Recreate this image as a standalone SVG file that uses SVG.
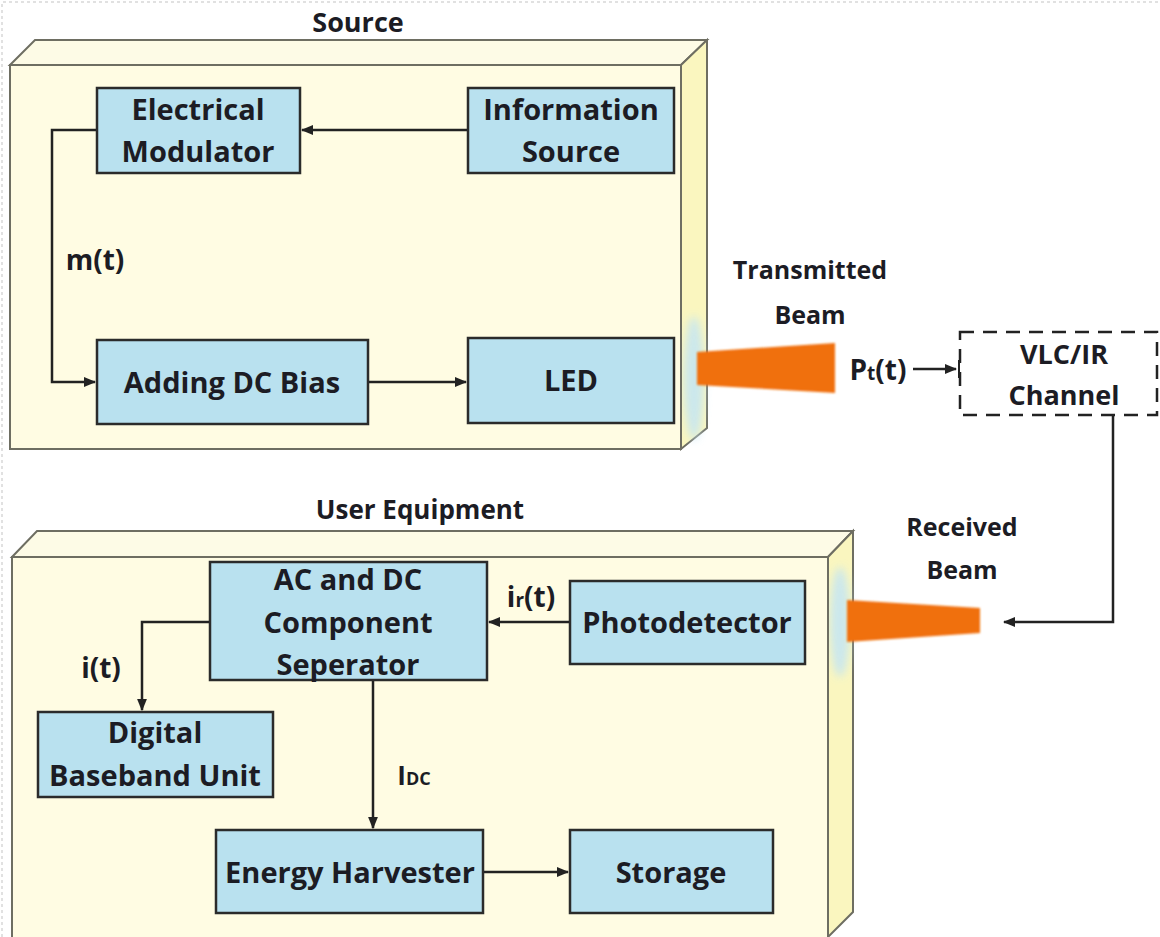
<svg xmlns="http://www.w3.org/2000/svg" width="1160" height="937" viewBox="0 0 1160 937">
<defs>
<style>
.t{font-family:"Open Sans","Liberation Sans",sans-serif;font-weight:bold;fill:#1c1c24;text-anchor:middle}
.bx{font-size:29px}
.lb{font-size:25px}
.sg{font-size:28px}
.node rect{fill:#b9e1ef;stroke:#2b2b2b;stroke-width:2.5}
.front{fill:#fffce3;stroke:#6e6e62;stroke-width:2}
.top{fill:#fdfbe6;stroke:#6e6e62;stroke-width:2}
.side{fill:#faf6bf;stroke:#6e6e62;stroke-width:2}
.c{fill:none;stroke:#222;stroke-width:2.5}
</style>
<marker id="ar" viewBox="0 0 10 10" refX="9" refY="5" markerWidth="5" markerHeight="5" orient="auto" markerUnits="strokeWidth">
<path d="M0,1 L10,5 L0,9 Z" fill="#222"/>
</marker>
<filter id="blur" x="-20%" y="-40%" width="140%" height="180%"><feGaussianBlur stdDeviation="1.3"/></filter>
<filter id="blur2" x="-50%" y="-50%" width="200%" height="200%"><feGaussianBlur stdDeviation="4"/></filter>
</defs>
<rect width="1160" height="937" fill="#ffffff"/>
<path d="M2,937 V2 H1158" fill="none" stroke="#d8d8d8" stroke-width="1.5" stroke-dasharray="3,3"/>

<g id="source-frame">
<text class="t" x="358" y="32" font-size="27">Source</text>
<polygon class="top" points="10,65 35,40 707,40 681,65"/>
<polygon class="side" points="681,65 707,40 707,428 681,449"/>
<ellipse cx="694" cy="378" rx="10" ry="62" fill="#c6e6f2" opacity="0.9" filter="url(#blur2)"/>
<rect class="front" x="10" y="65" width="671" height="384"/>
</g>

<g id="ue-frame">
<text class="t" x="420" y="519" font-size="26">User Equipment</text>
<polygon class="top" points="12,557 37,531 853,531 828,557"/>
<polygon class="side" points="828,557 853,531 853,912 828,937"/>
<ellipse cx="840" cy="622" rx="10" ry="55" fill="#c6e6f2" opacity="0.9" filter="url(#blur2)"/>
<rect class="front" x="12" y="557" width="816" height="390"/>
</g>

<g id="connectors">
<line class="c" x1="468" y1="130" x2="302" y2="130" marker-end="url(#ar)"/>
<polyline class="c" points="97,130 52,130 52,382 95,382" marker-end="url(#ar)"/>
<line class="c" x1="368" y1="382" x2="466" y2="382" marker-end="url(#ar)"/>
<line class="c" x1="913" y1="369" x2="956" y2="369" marker-end="url(#ar)"/>
<line x1="959" y1="360" x2="959" y2="378" stroke="#222" stroke-width="2"/>
<polyline class="c" points="1113,415 1113,622 1004,622" marker-end="url(#ar)"/>
<line class="c" x1="570" y1="622" x2="489" y2="622" marker-end="url(#ar)"/>
<polyline class="c" points="210,622 142,622 142,710" marker-end="url(#ar)"/>
<line class="c" x1="373" y1="680" x2="373" y2="828" marker-end="url(#ar)"/>
<line class="c" x1="483" y1="872" x2="568" y2="872" marker-end="url(#ar)"/>
<text class="t sg" x="95" y="270">m(t)</text>
<text class="t sg" x="878" y="380">P<tspan font-size="19">t</tspan>(t)</text>
<text class="t sg" x="531" y="607">i<tspan font-size="19">r</tspan>(t)</text>
<text class="t sg" x="101" y="678">i(t)</text>
<text class="t" x="414" y="785" font-size="26" font-weight="normal">I<tspan font-size="18">DC</tspan></text>
</g>

<g id="tx-beam">
<polygon points="697,352 835,343 835,393 697,385" fill="#f07010" filter="url(#blur)"/>
<text class="t lb" x="810" y="279">Transmitted</text>
<text class="t lb" x="810" y="324">Beam</text>
</g>

<g id="rx-beam">
<polygon points="847,600 980,608 980,633 847,642" fill="#f07010" filter="url(#blur)"/>
<text class="t lb" x="962" y="536">Received</text>
<text class="t lb" x="962" y="579">Beam</text>
</g>

<g id="channel">
<rect x="960" y="332" width="197" height="83" fill="none" stroke="#222" stroke-width="2.5" stroke-dasharray="14,9"/>
<text class="t" font-size="27" x="1064" y="364">VLC/IR</text>
<text class="t" font-size="27" x="1064" y="405">Channel</text>
</g>

<g id="electrical-modulator" class="node">
<rect x="97" y="88" width="203" height="85"/>
<text class="t bx" x="198" y="120">Electrical</text>
<text class="t bx" x="198" y="162">Modulator</text>
</g>
<g id="information-source" class="node">
<rect x="468" y="88" width="206" height="85"/>
<text class="t bx" x="571" y="120">Information</text>
<text class="t bx" x="571" y="162">Source</text>
</g>
<g id="adding-dc-bias" class="node">
<rect x="97" y="340" width="271" height="84"/>
<text class="t bx" x="232" y="393">Adding DC Bias</text>
</g>
<g id="led" class="node">
<rect x="468" y="338" width="206" height="85"/>
<text class="t bx" x="571" y="391">LED</text>
</g>
<g id="ac-dc-separator" class="node">
<rect x="210" y="562" width="277" height="118"/>
<text class="t bx" x="348" y="590">AC and DC</text>
<text class="t bx" x="348" y="633">Component</text>
<text class="t bx" x="348" y="675">Seperator</text>
</g>
<g id="photodetector" class="node">
<rect x="570" y="581" width="235" height="83"/>
<text class="t bx" x="687" y="633">Photodetector</text>
</g>
<g id="digital-baseband" class="node">
<rect x="38" y="712" width="235" height="85"/>
<text class="t bx" x="155" y="743">Digital</text>
<text class="t bx" x="155" y="786">Baseband Unit</text>
</g>
<g id="energy-harvester" class="node">
<rect x="216" y="830" width="267" height="83"/>
<text class="t bx" x="350" y="883">Energy Harvester</text>
</g>
<g id="storage" class="node">
<rect x="570" y="830" width="203" height="83"/>
<text class="t bx" x="671" y="883">Storage</text>
</g>
</svg>
